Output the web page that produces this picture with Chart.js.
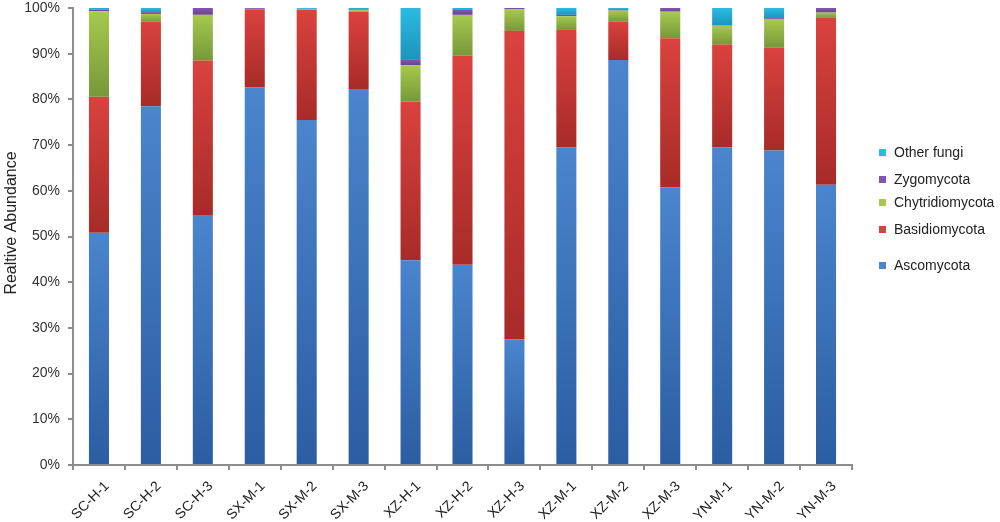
<!DOCTYPE html>
<html>
<head>
<meta charset="utf-8">
<script src="https://cdn.jsdelivr.net/npm/chart.js@4.4.1/dist/chart.umd.min.js"></script>
<style>
  html, body { margin: 0; padding: 0; background: #fff; }
  #wrap { width: 1000px; height: 522px; }
</style>
</head>
<body>
<div id="wrap"><canvas id="chart" width="1000" height="522"></canvas></div>
<script>
// samples
const samples = ['SC-H-1', 'SC-H-2', 'SC-H-3', 'SX-M-1', 'SX-M-2', 'SX-M-3', 'XZ-H-1', 'XZ-H-2',
  'XZ-H-3', 'XZ-M-1', 'XZ-M-2', 'XZ-M-3', 'YN-M-1', 'YN-M-2', 'YN-M-3'];

// relative abundance (%) per phylum
const ascomycota      = [50.8, 78.5, 54.7, 82.6, 75.5, 82.3, 44.8, 43.8, 27.5, 69.5, 88.6, 60.8, 69.5, 68.8, 61.3];
const basidiomycota   = [29.8, 18.5, 33.8, 17.1, 24.1, 16.9, 34.7, 45.8, 67.5, 25.7,  8.4, 32.6, 22.5, 22.5, 36.6];
const chytridiomycota = [18.7,  1.7, 10.0,  0.1,  0.1,  0.3,  8.0,  8.9,  4.7,  3.0,  2.4,  5.8,  4.1,  6.3,  1.1];
const zygomycota      = [ 0.4,  0.4,  1.5,  0.2,  0.1,  0.1,  1.3,  1.1,  0.3,  0.3,  0.1,  0.8,  0.1,  0.2,  1.0];
const otherFungi      = [ 0.3,  0.9,  0.0,  0.0,  0.2,  0.4, 11.2,  0.4,  0.0,  1.5,  0.5,  0.0,  3.8,  2.2,  0.0];

const yTicks = [0, 10, 20, 30, 40, 50, 60, 70, 80, 90, 100];
const yTitle = 'Realtive Abundance';

// bottom-to-top stacking order
const series = [
  { label: 'Ascomycota',      data: ascomycota,      light: '#4A85CD', dark: '#2B5DA2' },
  { label: 'Basidiomycota',   data: basidiomycota,   light: '#DA423E', dark: '#A72B28' },
  { label: 'Chytridiomycota', data: chytridiomycota, light: '#A6C94E', dark: '#779839' },
  { label: 'Zygomycota',      data: zygomycota,      light: '#8457AE', dark: '#6A4194' },
  { label: 'Other fungi',     data: otherFungi,      light: '#2CBBE2', dark: '#1D93BC' }
];

const FONT = '"Liberation Sans", Arial, sans-serif';

// lighter at the top of each segment, darker at its base (Excel style fill)
function segmentFill(si) {
  return function (ctx) {
    const chart = ctx.chart;
    const s = series[si];
    if (!chart.chartArea || ctx.dataIndex === undefined) return s.light;
    let base = 0;
    for (let k = 0; k < si; k++) base += series[k].data[ctx.dataIndex];
    const top = base + s.data[ctx.dataIndex];
    const y = chart.scales.y;
    const y0 = y.getPixelForValue(top), y1 = y.getPixelForValue(base);
    if (!isFinite(y0) || !isFinite(y1) || y1 - y0 < 1) return s.light;
    const g = chart.ctx.createLinearGradient(0, y0, 0, y1);
    g.addColorStop(0, s.light);
    g.addColorStop(1, s.dark);
    return g;
  };
}

// legend on the right (top entry = top of the stack) + y title
const legendRows = [153, 180, 203, 230, 266];
const sideLegend = {
  id: 'sideLegend',
  afterDraw(chart) {
    const c = chart.ctx;
    const items = series.slice().reverse();
    c.save();
    c.font = '14px ' + FONT;
    c.textBaseline = 'middle';
    items.forEach((s, i) => {
      const y = legendRows[i];
      c.fillStyle = s.light;
      c.fillRect(879, y - 4, 7, 7);
      c.fillStyle = '#222';
      c.fillText(s.label, 894, y);
    });

    c.translate(12, 223);
    c.rotate(-Math.PI / 2);
    c.font = '16px ' + FONT;
    c.textAlign = 'center';
    c.fillStyle = '#222';
    c.fillText(yTitle, 0, 0);
    c.restore();
  }
};

new Chart(document.getElementById('chart'), {
  type: 'bar',
  data: {
    labels: samples,
    datasets: series.map((s, i) => ({
      label: s.label,
      data: s.data,
      backgroundColor: segmentFill(i),
      borderWidth: 0,
      barPercentage: 0.386,
      categoryPercentage: 1.0
    }))
  },
  options: {
    responsive: false,
    animation: false,
    devicePixelRatio: 1,
    layout: { padding: { top: 8, right: 148, left: 0, bottom: 0 } },
    plugins: {
      legend: { display: false },
      tooltip: { enabled: false }
    },
    scales: {
      x: {
        stacked: true,
        afterFit(scale) { scale.height = 57; },
        grid: { display: true, drawOnChartArea: false, offset: true, tickLength: 5, color: '#8c8c8c', lineWidth: 2 },
        border: { display: true, color: '#8c8c8c', width: 2 },
        ticks: {
          color: '#222', font: { family: FONT, size: 14 },
          minRotation: 45, maxRotation: 45, padding: 8, labelOffset: 8, autoSkip: false
        }
      },
      y: {
        stacked: true,
        min: 0, max: 100,
        afterFit(scale) { scale.width = 73; scale.paddingTop = 0; scale.paddingBottom = 0; },
        afterBuildTicks(scale) { scale.ticks = yTicks.map(v => ({ value: v })); },
        grid: { display: true, drawOnChartArea: false, tickLength: 5, color: '#8c8c8c', lineWidth: 2 },
        border: { display: true, color: '#8c8c8c', width: 2 },
        ticks: {
          color: '#333', font: { family: FONT, size: 14 }, padding: 8,
          callback: v => v + '%'
        }
      }
    }
  },
  plugins: [sideLegend]
});
</script>
</body>
</html>
